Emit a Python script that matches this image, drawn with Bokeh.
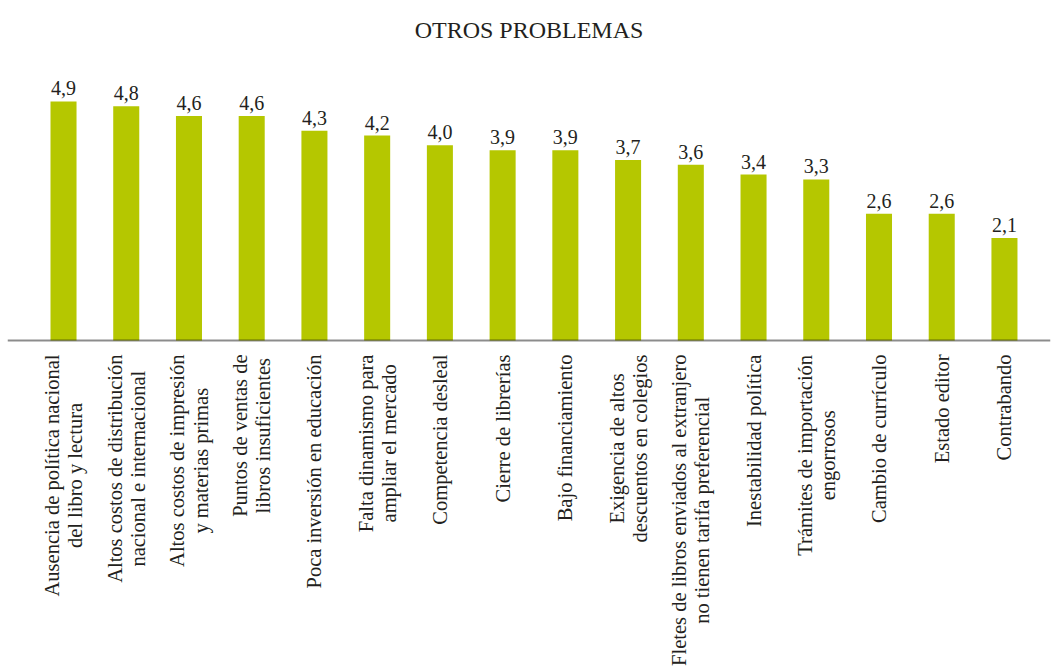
import math
from bokeh.plotting import figure
from bokeh.models import ColumnDataSource, Range1d, Span
from bokeh.core.properties import value
from bokeh.embed import file_html
from bokeh.resources import INLINE

categories = [
    "Ausencia de política nacional\ndel libro y lectura",
    "Altos costos de distribución\nnacional e internacional",
    "Altos costos de impresión\ny materias primas",
    "Puntos de ventas de\nlibros insuficientes",
    "Poca inversión en educación",
    "Falta dinamismo para\nampliar el mercado",
    "Competencia desleal",
    "Cierre de librerías",
    "Bajo financiamiento",
    "Exigencia de altos\ndescuentos en colegios",
    "Fletes de libros enviados al extranjero\nno tienen tarifa preferencial",
    "Inestabilidad política",
    "Trámites de importación\nengorrosos",
    "Cambio de currículo",
    "Estado editor",
    "Contrabando",
]
values = [4.9, 4.8, 4.6, 4.6, 4.3, 4.2, 4.0, 3.9, 3.9, 3.7, 3.6, 3.4, 3.3, 2.6, 2.6, 2.1]
value_labels = [f"{v:.1f}".replace(".", ",") for v in values]

FONT = "Liberation Serif"
BAR = "#b5c700"
TEXT = "#231f20"
LABEL_PX = 20.5
STANDOFF = 14

# Advance widths (1/1000 em) of Liberation Serif (metric-compatible with Times)
_W = dict(zip("abcdefghijklmnopqrstuvwxyz",
              [444, 500, 444, 500, 444, 333, 500, 500, 278, 278, 500, 278, 778,
               500, 500, 500, 500, 333, 389, 278, 500, 500, 722, 500, 500, 444]))
_W.update(dict(zip("ABCDEFGHIJKLMNOPQRSTUVWXYZ",
                   [722, 667, 667, 722, 611, 556, 722, 722, 333, 389, 722, 611, 889,
                    722, 722, 556, 722, 667, 556, 611, 722, 722, 944, 722, 722, 611])))
_W.update({" ": 250, "á": 444, "é": 444, "í": 278, "ó": 500, "ú": 500})


def text_width(s, px):
    return sum(_W.get(c, 500) for c in s) / 1000.0 * px


label_offsets = [STANDOFF + 0.5 * max(text_width(line, LABEL_PX) for line in c.split("\n"))
                 for c in categories]

xs = list(range(len(categories)))
src = ColumnDataSource(dict(x=xs, v=values, lab=value_labels, cat=categories,
                            zero=[0] * len(xs), yoff=label_offsets))

p = figure(width=1053, height=672, output_backend="svg", toolbar_location=None,
           x_range=Range1d(-0.893, 15.734), y_range=Range1d(-6.803, 5.943),
           x_axis_type=None, y_axis_type=None,
           min_border_left=7, min_border_right=3, min_border_bottom=0, min_border_top=50)
p.outline_line_color = None
p.background_fill_color = "white"
p.title.text = "OTROS PROBLEMAS"
p.title.align = "center"
p.title.text_font = FONT
p.title.text_font_size = "24px"
p.title.text_font_style = "normal"
p.title.text_color = TEXT
p.title.standoff = 15

p.vbar(x="x", top="v", bottom=0, width=0.415, source=src,
       fill_color=BAR, line_color=None)
p.add_layout(Span(location=0, dimension="width", line_color="#000000",
                  line_alpha=0.45, line_width=2))
p.text(x="x", y="v", text="lab", source=src, text_font=value(FONT),
       text_font_size="20px", text_align="center", text_baseline="alphabetic",
       y_offset=-13, text_color=TEXT)
p.text(x="x", y="zero", text="cat", source=src, angle=math.pi / 2,
       anchor="center", text_align="center", text_baseline="middle",
       y_offset="yoff", text_font=value(FONT), text_font_size=f"{LABEL_PX}px",
       text_color=TEXT, text_line_height=1.05)

open("out.html", "w").write(file_html(p, INLINE))
